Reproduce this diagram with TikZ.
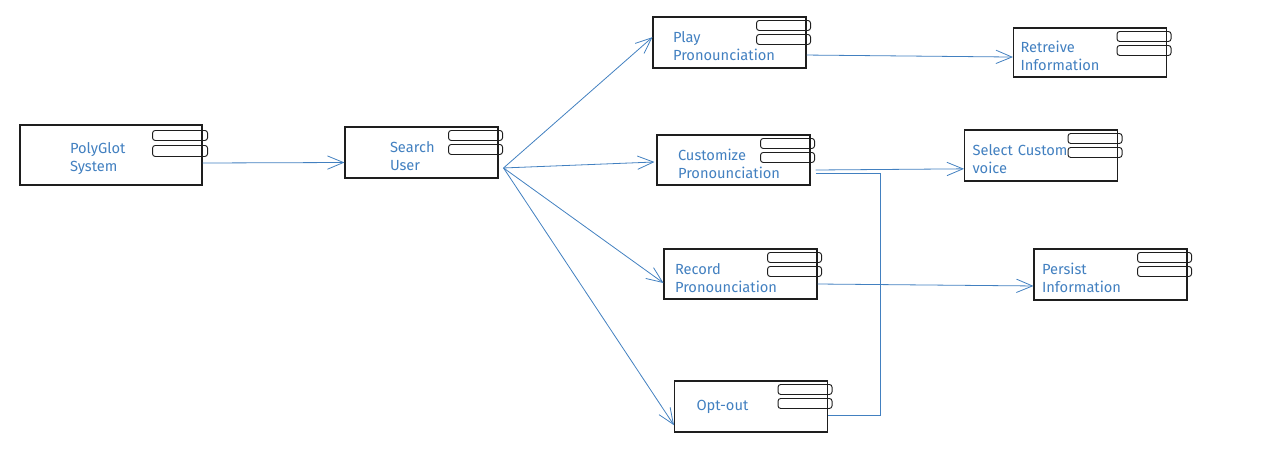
\documentclass[tikz,border=0pt]{standalone}
\usepackage{fontspec}
\setmainfont{Fira Sans}
\usetikzlibrary{arrows.meta}
\definecolor{sketchblue}{RGB}{66,128,192}
\definecolor{sketchink}{RGB}{30,30,30}
\tikzset {
  % component box, #1 is the left indent of its text
  comp/.style = {
    draw = sketchink,
    line width = 0.8pt,
    rectangle,
    inner xsep = #1,
    text width = 114.75pt-2*#1,
    minimum height = 38.25pt,
    align = left,
    text = sketchblue,
    font = \fontsize{11}{13.5}\selectfont
  },
  comp/.default = 15pt,
  % component with two lines of text, set a little below the middle
  comp2/.style = {
    comp = #1,
    execute at begin node = {\rule{0pt}{14pt}}
  },
  comp2/.default = 15pt,
  % the two small tabs of a component
  tab/.style = {
    draw = sketchink,
    line width = 0.7pt,
    rounded corners = 2pt
  },
  % connector with open arrow head
  conn/.style = {
    draw = sketchblue,
    line width = 0.6pt,
    -{Straight Barb[length=12pt,width=10pt]}
  },
  % connector with no arrow head
  link/.style = {
    draw = sketchblue,
    line width = 0.6pt
  }
}
\begin{document}
\begin{tikzpicture}[x=0.75pt, y=-0.75pt]
    \useasboundingbox (0,0) rectangle (1280,468);

    \node[comp2=37.5pt, text width=61.5pt, minimum height=45pt] (polyglot) at (111,155) {PolyGlot\\System};
    \node[comp2=33.75pt] (search) at (421.5,152.5) {Search\\User};

    \node[comp2=15pt] (play) at (729.5,42.5) {Play\\Pronounciation};
    \node[comp2=15.75pt, minimum height=37.5pt] (customize) at (733.5,160) {Customize\\Pronounciation};
    \node[comp2=8.25pt, minimum height=37.5pt] (record) at (740.5,274) {Record\\Pronounciation};
    \node[comp=16.5pt] (optout) at (751,406.5) {Opt-out};

    \node[comp2=5.25pt, minimum height=36.75pt] (retreive) at (1090,52.5) {Retreive\\Information};
    \node[comp2=6pt] (select) at (1041,155.5) {Select Custom\\voice};
    \node[comp2=6pt] (persist) at (1110.5,274.5) {Persist\\Information};

    % tabs on each component
    \foreach \n in {search,play,customize,record,optout,retreive,select,persist} {
      \draw[tab] ([xshift=-37.5pt,yshift=-3pt]\n.north east)
        rectangle ([xshift=3pt,yshift=-10.5pt]\n.north east);
      \draw[tab] ([xshift=-37.5pt,yshift=-13.5pt]\n.north east)
        rectangle ([xshift=3pt,yshift=-21pt]\n.north east);
    }
    \draw[tab] ([xshift=-37.5pt,yshift=-4.5pt]polyglot.north east)
      rectangle ([xshift=3.75pt,yshift=-12pt]polyglot.north east);
    \draw[tab] ([xshift=-37.5pt,yshift=-15.75pt]polyglot.north east)
      rectangle ([xshift=3.75pt,yshift=-24pt]polyglot.north east);

    \coordinate (search-hub) at ([xshift=3.75pt,yshift=-11.6pt]search.east);

    % main line
    \draw[conn] ([yshift=-6pt]polyglot.east) -- ([yshift=-7.5pt]search.west);

    % fan out of search
    \draw[conn] (search-hub) -- ([yshift=4pt]play.west);
    \draw[conn] (search-hub) -- ([xshift=-1.5pt,yshift=-1.5pt]customize.west);
    \draw[conn] (search-hub) -- ([yshift=-6.75pt]record.west);
    \draw[conn] (search-hub) -- ([yshift=-14pt]optout.west);

    % second level
    \draw[conn] ([yshift=-9.4pt]play.east) -- ([yshift=-3.4pt]retreive.west);
    \draw[conn] ([xshift=3.75pt,yshift=-7.5pt]customize.east) -- ([yshift=-10pt]select.west);
    \draw[conn] ([yshift=-7.5pt]record.east) -- ([yshift=-8.6pt]persist.west);

    % back from opt-out to customize
    \draw[link] ([yshift=-7pt]optout.east)
      -- ++(39pt,0)
      |- ([xshift=3.75pt,yshift=-9.75pt]customize.east);
\end{tikzpicture}
\end{document}
